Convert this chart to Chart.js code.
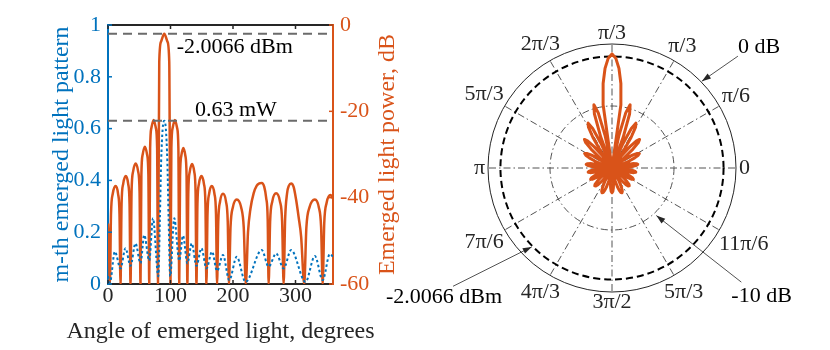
<!DOCTYPE html>
<html><head><meta charset="utf-8">
<script src="https://cdn.jsdelivr.net/npm/chart.js@4.4.1/dist/chart.umd.min.js"></script>
<style>
html,body{margin:0;padding:0;background:#fff;}
#wrap{position:relative;width:830px;height:350px;overflow:hidden;background:#fff;}
#left{position:absolute;left:0;top:0;}
#right{position:absolute;left:370px;top:0;}
</style></head><body>
<div id="wrap"><canvas id="left" width="430" height="350"></canvas><canvas id="right" width="460" height="350"></canvas></div>
<script>
// ---------- data ----------
const xTicks = [0, 100, 200, 300];
const yLeftTicks = [0, 0.2, 0.4, 0.6, 0.8, 1];
const yRightTicks = [-60, -40, -20, 0];
const refPowerMw = 0.63;
const refPowerDbm = -2.0066;

// orange: emerged light power (dB) vs angle (degrees)
const orangeDeg = [0,1.5,3,
 4.8,7.6,12.2,16.1,18.4,20,
 21.7,24.3,28.5,32.3,34.5,36,
 37.7,40.2,44.3,48.2,50.5,52,
 53.4,55.5,59,62.5,64.6,66,
 67.4,69.5,73,76.5,78.6,80,
 82,85,90,95,98,100,
 101.4,103.5,107,110.5,112.6,114,
 115.3,117.3,120.5,123.8,125.7,127,
 128.5,130.8,134.5,138,140.1,141.5,
 143.1,145.5,149.5,153.5,155.9,157.5,
 159.2,161.8,166,170.3,172.8,174.5,
 176.4,179.3,184,188.8,191.6,193.5,
 196,199.8,206,213,217.2,220.5,
 224,228,233,238,242,246,250,253,255.5,257,
 259.4,263,269,275,278.6,281,
 283.4,286.5,289.5,293,297,301,305,309,314,
 317.4,322.5,331,337.3,341,343.5,
 346,349.8,356,360];
const orangeDb = [-46,-51,-60,
 -43.8,-39.1,-37.3,-39.1,-43.8,-60,
 -41.5,-36.8,-35,-36.8,-41.5,-60,
 -38.6,-33.9,-32.1,-33.9,-38.6,-60,
 -34.7,-30,-28.2,-30,-34.7,-60,
 -28.5,-23.8,-22,-23.8,-28.5,-60,
 -8.5,-3.8,-2,-3.8,-8.5,-60,
 -28.5,-23.8,-22,-23.8,-28.5,-60,
 -35,-30.3,-28.5,-30.3,-35,-60,
 -38.7,-34,-32.2,-34,-38.7,-60,
 -41.5,-36.8,-35,-36.8,-41.5,-60,
 -43.8,-39.1,-37.3,-39.1,-43.8,-60,
 -45.6,-40.9,-39.1,-40.9,-45.6,-60,
 -46.9,-42.2,-40.4,-42.2,-46.9,-60,
 -48,-42.5,-39,-37.2,-36.7,-36.6,-37.5,-40,-45,-60,
 -45.5,-40.8,-39,-40.8,-45.5,-60,
 -45,-39,-37.2,-36.7,-37.5,-40.5,-44.5,-49,-60,
 -46.9,-42.2,-40.4,-42.2,-46.9,-60,
 -45.9,-41.2,-39.4,-40.2];

// blue: m-th emerged light pattern (linear) vs angle (degrees)
const blueDeg = [0,3,11,20,28,36,44,52,58,66,72,80.5,83,85,87.5,90,92.5,95,97,99.5,
 106,114,120,127,134,141.5,149.5,157.5,166.5,174.5,184,194,206,220,246,257,269,281,293,316,331,343.5,355,360];
const blueVal = [0.03,0.005,0.125,0.06,0.138,0.07,0.157,0.08,0.189,0.09,0.254,0.03,0.25,0.47,0.6,0.63,0.6,0.47,0.25,0.03,
 0.254,0.09,0.187,0.08,0.157,0.07,0.138,0.06,0.125,0.05,0.112,0.015,0.105,0.008,0.131,0.067,0.118,0.06,0.131,0.008,0.108,0.015,0.116,0.105];

// polar pattern: dB at 0,2,4,...,358 degrees (radial axis -20..0 dB)
const polarStepDeg = 2;
const polarDb = [
 -20,-18.4,-17.0,-16.1,-15.8,-16.0,-16.6,-17.5,-18.7,-20,
 -18.5,-17.1,-16.0,-15.3,-15.0,-15.3,-16.0,-17.1,-18.5,-20,
 -17.5,-15.5,-14.1,-13.6,-14.1,-15.5,-17.5,-20,-16.9,-14.2,
 -12.4,-11.8,-12.9,-15.9,-20,-14.7,-10.8,-9.4,-10.8,-14.7,
 -20,-9.7,-6.3,-3.9,-2.3,-1.6,-2.3,-3.9,-6.3,-9.7,
 -20,-14.7,-10.8,-9.4,-10.8,-14.7,-20,-15.9,-12.9,-11.8,
 -12.4,-14.2,-16.9,-20,-17.5,-15.5,-14.1,-13.6,-14.1,-15.5,
 -17.5,-20,-18.5,-17.1,-16.0,-15.3,-15.0,-15.3,-16.0,-17.1,
 -18.5,-20,-18.7,-17.5,-16.6,-16.0,-15.8,-16.1,-17.0,-18.4,
 -20,-18.8,-17.7,-16.9,-16.3,-16.1,-16.4,-17.3,-18.5,-20,
 -18.8,-17.7,-16.9,-16.3,-16.1,-16.4,-17.3,-18.5,-20,-18.8,
 -17.6,-16.8,-16.2,-16.0,-16.1,-16.5,-17.2,-18.0,-19.0,-20,
 -18.7,-17.5,-16.5,-15.9,-15.7,-15.8,-16.2,-16.9,-17.8,-18.9,
 -20,-18.8,-17.6,-16.8,-16.2,-16.0,-16.2,-16.8,-17.6,-18.8,
 -20,-18.9,-17.8,-16.9,-16.2,-15.8,-15.7,-15.9,-16.5,-17.5,
 -18.7,-20,-19.0,-18.0,-17.2,-16.5,-16.1,-16.0,-16.2,-16.8,
 -17.6,-18.8,-20,-18.5,-17.3,-16.4,-16.1,-16.3,-16.9,-17.7,
 -18.8,-20,-18.5,-17.3,-16.4,-16.1,-16.3,-16.9,-17.7,-18.8];
const polarAngleLabels = ['0','π/6','π/3','π/3','2π/3','5π/3','π','7π/6','4π/3','3π/2','5π/3','11π/6'];
const polarRingDb = [-10, 0];

// ---------- styling ----------
const FONT = '"Liberation Serif", "Times New Roman", serif';
const BLUE = '#0072BD', ORANGE = '#D95319', DARK = '#262626';
Chart.defaults.font.family = FONT;

function seg(ctx, x0, y0, x1, y1) { ctx.beginPath(); ctx.moveTo(x0, y0); ctx.lineTo(x1, y1); ctx.stroke(); }
function vtext(ctx, txt, x, y, color) {
  ctx.save(); ctx.translate(x, y); ctx.rotate(-Math.PI / 2);
  ctx.fillStyle = color; ctx.textAlign = 'center'; ctx.textBaseline = 'alphabetic';
  ctx.fillText(txt, 0, 0); ctx.restore();
}

const leftDecor = {
  id: 'leftDecor',
  afterDraw(chart) {
    const {ctx, chartArea: a, scales: {x, y, y1}} = chart;
    ctx.save();
    const yDbm = y1.getPixelForValue(refPowerDbm), yMw = y.getPixelForValue(refPowerMw);
    ctx.strokeStyle = '#6b6b6b'; ctx.lineWidth = 2; ctx.setLineDash([9, 6]);
    seg(ctx, a.left, yDbm, a.right, yDbm);
    seg(ctx, a.left, yMw, a.right, yMw);
    ctx.setLineDash([]);
    ctx.strokeStyle = DARK; ctx.lineWidth = 2;
    seg(ctx, a.left, a.top, a.right, a.top);
    ctx.lineWidth = 1.5;
    xTicks.forEach(v => { const px = x.getPixelForValue(v); seg(ctx, px, a.bottom, px, a.bottom - 4); seg(ctx, px, a.top, px, a.top + 4); });
    ctx.strokeStyle = BLUE;
    yLeftTicks.forEach(v => { const py = y.getPixelForValue(v); seg(ctx, a.left, py, a.left + 4, py); });
    ctx.strokeStyle = ORANGE;
    yRightTicks.forEach(v => { const py = y1.getPixelForValue(v); seg(ctx, a.right, py, a.right - 4, py); });
    ctx.font = '22px ' + FONT; ctx.fillStyle = '#000'; ctx.textAlign = 'left'; ctx.textBaseline = 'middle';
    ctx.fillText('-2.0066 dBm', x.getPixelForValue(110), yDbm + 14);
    ctx.fillText('0.63 mW', x.getPixelForValue(139), yMw - 11);
    ctx.font = '24px ' + FONT;
    ctx.fillStyle = DARK; ctx.textAlign = 'center'; ctx.textBaseline = 'alphabetic';
    ctx.fillText('Angle of emerged light, degrees', (a.left + a.right) / 2, a.bottom + 54);
    vtext(ctx, 'm-th emerged light pattern', a.left - 40, (a.top + a.bottom) / 2, BLUE);
    vtext(ctx, 'Emerged light power, dB', a.right + 61, (a.top + a.bottom) / 2, ORANGE);
    ctx.restore();
  }
};

const tickFont = {family: FONT, size: 22, lineHeight: 1};
new Chart(document.getElementById('left'), {
  type: 'line',
  data: {datasets: [
    {label: 'm-th emerged light pattern', data: blueDeg.map((d, i) => ({x: d, y: blueVal[i]})), yAxisID: 'y',
     borderColor: BLUE, borderWidth: 2, borderDash: [2.5, 2.5], pointRadius: 0, fill: false, cubicInterpolationMode: 'monotone'},
    {label: 'Emerged light power, dB', data: orangeDeg.map((d, i) => ({x: d, y: orangeDb[i]})), yAxisID: 'y1',
     borderColor: ORANGE, borderWidth: 2.5, pointRadius: 0, fill: false, cubicInterpolationMode: 'monotone'}
  ]},
  options: {
    responsive: false, animation: false, events: [],
    layout: {padding: {top: 25, left: 0, right: 0, bottom: 0}},
    plugins: {legend: {display: false}, tooltip: {enabled: false}},
    scales: {
      x: {type: 'linear', min: 0, max: 360,
        afterBuildTicks: s => { s.ticks = xTicks.map(v => ({value: v})); },
        afterFit: s => { s.height = 66; },
        grid: {display: false, drawTicks: false}, border: {display: true, color: DARK, width: 2},
        ticks: {color: DARK, font: tickFont, padding: 1, maxRotation: 0, autoSkip: false}},
      y: {type: 'linear', position: 'left', min: 0, max: 1,
        afterBuildTicks: s => { s.ticks = yLeftTicks.map(v => ({value: v})); },
        afterFit: s => { s.width = 108; },
        grid: {display: false, drawTicks: false}, border: {display: true, color: BLUE, width: 2},
        ticks: {color: BLUE, font: tickFont, padding: 7, callback: v => String(v)}},
      y1: {type: 'linear', position: 'right', min: -60, max: 0,
        afterBuildTicks: s => { s.ticks = yRightTicks.map(v => ({value: v})); },
        afterFit: s => { s.width = 97; },
        grid: {display: false, drawTicks: false}, border: {display: true, color: ORANGE, width: 2},
        ticks: {color: ORANGE, font: tickFont, padding: 7, callback: v => String(v)}}
    }
  },
  plugins: [leftDecor]
});

// ---------- polar ----------
const nPolar = polarDb.length;
const radarData = polarDb.map((_, i) => polarDb[(nPolar - i) % nPolar]);
const angleIndex = theta => ((360 - theta) % 360) / polarStepDeg;

function ring(ctx, cx, cy, rad) { ctx.beginPath(); ctx.arc(cx, cy, rad, 0, Math.PI * 2); ctx.stroke(); }
function arrow(ctx, tail, tip) {
  seg(ctx, tail.x, tail.y, tip.x, tip.y);
  const ang = Math.atan2(tip.y - tail.y, tip.x - tail.x), L = 9, W = 3;
  ctx.beginPath(); ctx.moveTo(tip.x, tip.y);
  ctx.lineTo(tip.x - L * Math.cos(ang) + W * Math.sin(ang), tip.y - L * Math.sin(ang) - W * Math.cos(ang));
  ctx.lineTo(tip.x - L * Math.cos(ang) - W * Math.sin(ang), tip.y - L * Math.sin(ang) + W * Math.cos(ang));
  ctx.closePath(); ctx.fill();
}

const polarDecor = {
  id: 'polarDecor',
  beforeDatasetsDraw(chart) {
    const {ctx} = chart, r = chart.scales.r;
    const cx = r.xCenter, cy = r.yCenter, R = r.drawingArea;
    ctx.save();
    ctx.strokeStyle = '#404040'; ctx.lineWidth = 0.9; ctx.setLineDash([7, 3, 1.5, 3]);
    polarAngleLabels.forEach((_, k) => { const p = r.getPointPosition(angleIndex(k * 30), R); seg(ctx, cx, cy, p.x, p.y); });
    ring(ctx, cx, cy, r.getDistanceFromCenterForValue(polarRingDb[0]));
    ctx.setLineDash([]); ctx.strokeStyle = DARK; ctx.lineWidth = 1;
    ring(ctx, cx, cy, r.getDistanceFromCenterForValue(polarRingDb[1]));
    ctx.strokeStyle = '#000'; ctx.lineWidth = 2; ctx.setLineDash([7, 4]);
    ring(ctx, cx, cy, r.getDistanceFromCenterForValue(refPowerDbm));
    ctx.restore();
  },
  afterDatasetsDraw(chart) {
    const {ctx} = chart, r = chart.scales.r, R = r.drawingArea;
    ctx.save();
    ctx.font = '22px ' + FONT; ctx.fillStyle = DARK; ctx.textAlign = 'center'; ctx.textBaseline = 'middle';
    polarAngleLabels.forEach((txt, k) => {
      const th = k * 30 * Math.PI / 180, w = ctx.measureText(txt).width, h = 15;
      const d = R + 3 + Math.abs(Math.cos(th)) * w / 2 + Math.abs(Math.sin(th)) * h / 2;
      const p = r.getPointPosition(angleIndex(k * 30), d);
      ctx.fillText(txt, p.x, p.y);
    });
    ctx.strokeStyle = DARK; ctx.lineWidth = 0.8;
    const tip0 = r.getPointPosition(angleIndex(44), R + 1);
    const tail0 = {x: tip0.x + 36, y: tip0.y - 25};
    arrow(ctx, tail0, tip0);
    const tipR = r.getPointPosition(angleIndex(224.5), r.getDistanceFromCenterForValue(refPowerDbm) + 1);
    const tailR = {x: tipR.x - 78.7, y: tipR.y + 39.4};
    arrow(ctx, tailR, tipR);
    const tip10 = r.getPointPosition(angleIndex(313), r.getDistanceFromCenterForValue(polarRingDb[0]) + 3);
    const tail10 = {x: tip10.x + 85, y: tip10.y + 66.6};
    arrow(ctx, tail10, tip10);
    ctx.fillStyle = '#000';
    ctx.textAlign = 'left'; ctx.fillText('0 dB', tail0.x, tail0.y - 9);
    ctx.textAlign = 'right'; ctx.fillText('-2.0066 dBm', tailR.x + 49, tailR.y + 11.3);
    ctx.textAlign = 'left'; ctx.fillText('-10 dB', tail10.x - 10, tail10.y + 13.7);
    ctx.restore();
  }
};

new Chart(document.getElementById('right'), {
  type: 'radar',
  data: {labels: radarData.map((_, i) => String(i)),
    datasets: [{label: 'pattern', data: radarData, borderColor: ORANGE, borderWidth: 3, borderJoinStyle: 'round',
      pointRadius: 0, fill: false, tension: 0}]},
  options: {
    responsive: false, animation: false, events: [],
    layout: {padding: {left: 117.5, right: 93.5, top: 43.5, bottom: 57.5}},
    plugins: {legend: {display: false}, tooltip: {enabled: false}},
    scales: {r: {min: -20, max: 0, startAngle: 90,
      ticks: {display: false, stepSize: 10}, pointLabels: {display: false},
      grid: {display: false}, angleLines: {display: false}}}
  },
  plugins: [polarDecor]
});
</script>
</body></html>
